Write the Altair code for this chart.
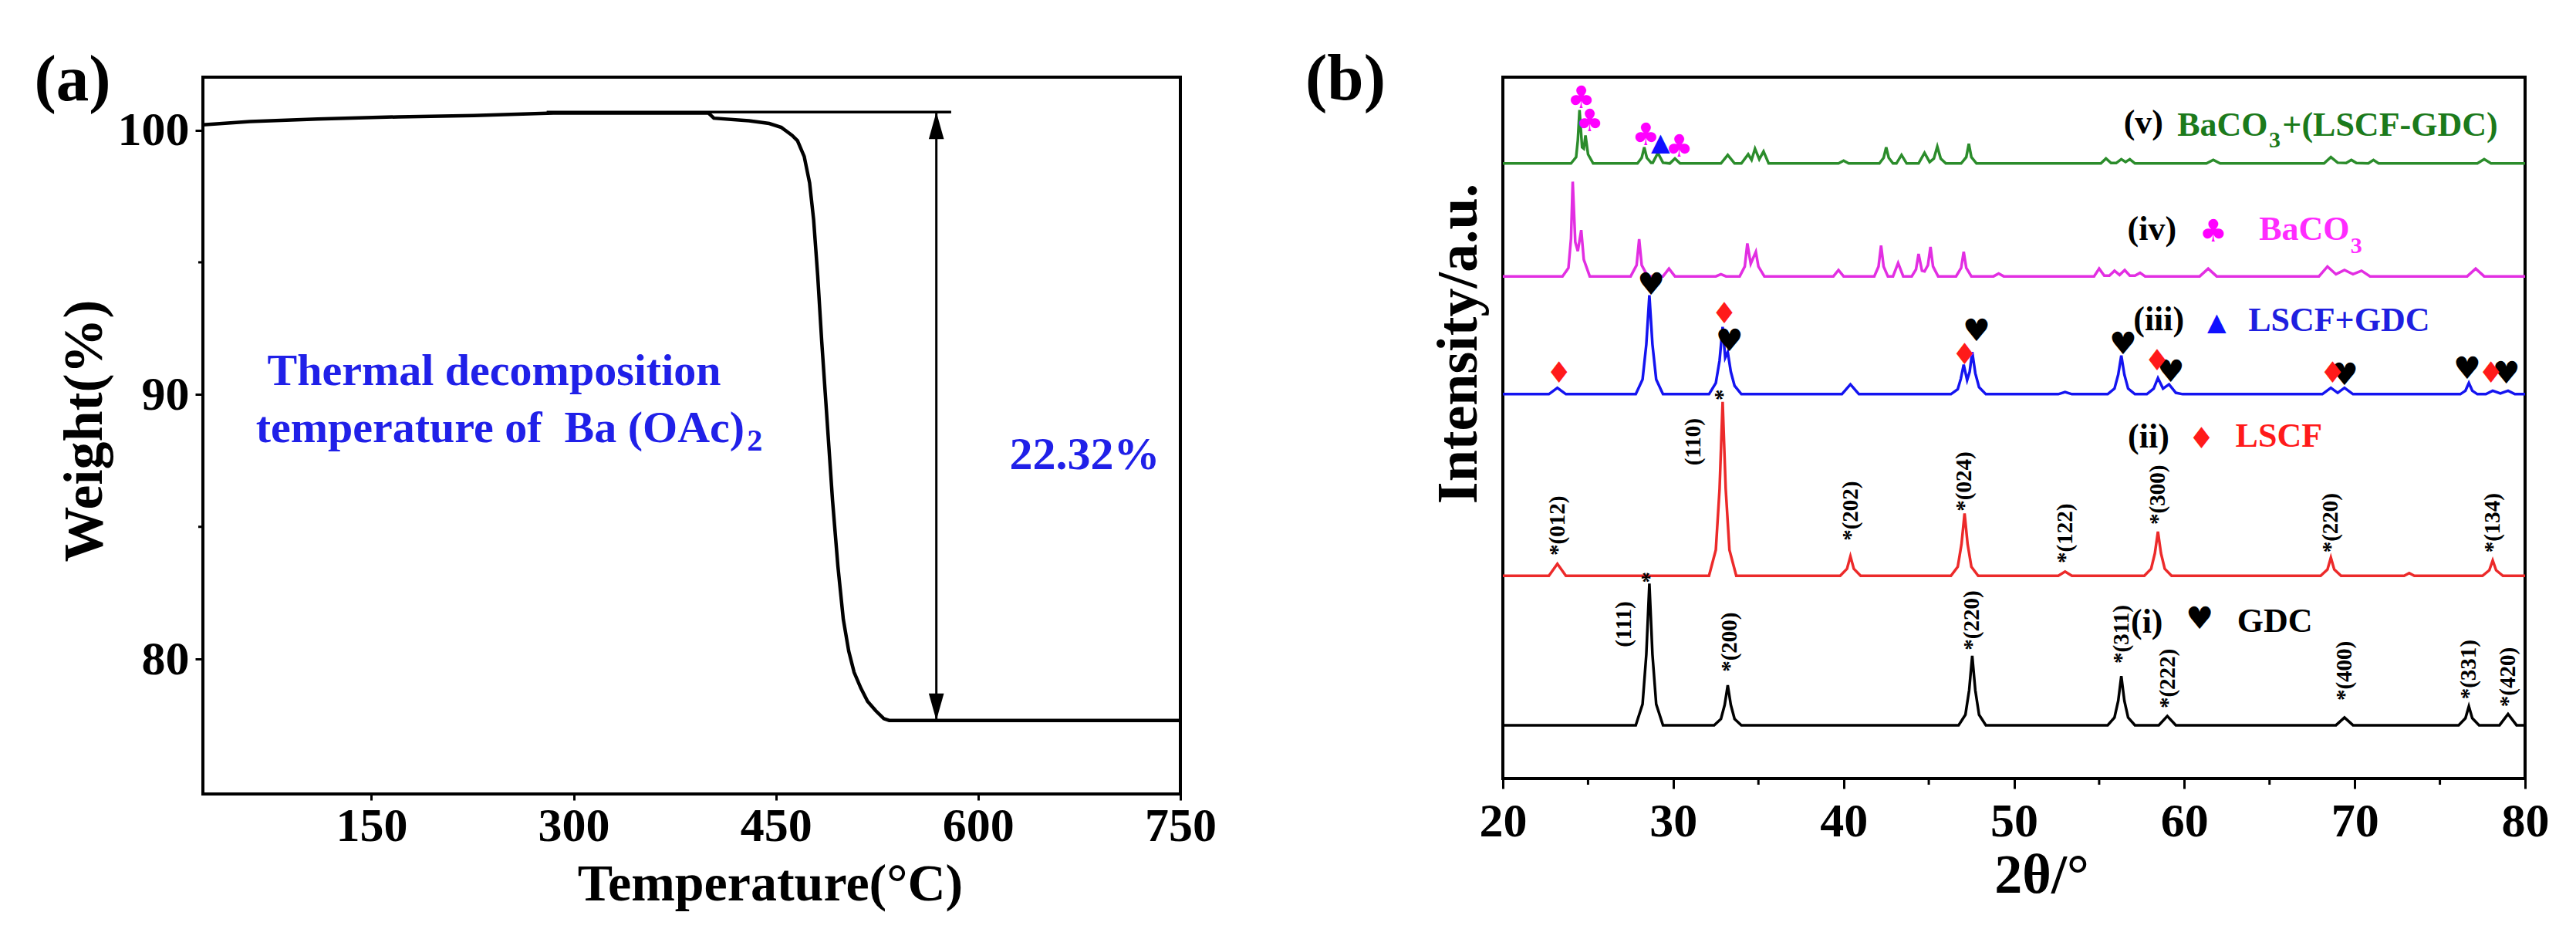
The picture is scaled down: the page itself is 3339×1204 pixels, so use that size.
import altair as alt
import pandas as pd

FONT = "Liberation Serif"
SYM_FONT = "DejaVu Sans"

# ================= Panel (a): TGA =================
tga_temp = [25, 60, 110, 170, 226, 285, 400, 404, 430, 445, 454, 462, 466, 471, 475, 478, 481, 484, 488, 492,
            496, 500, 504, 508, 513, 518, 524, 530, 534, 600, 750]
tga_weight = [100.20, 100.32, 100.42, 100.50, 100.55, 100.64, 100.64, 100.45, 100.35, 100.25, 100.10, 99.80,
              99.60, 99.00, 98.00, 96.60, 94.50, 92.00, 89.00, 86.00, 83.50, 81.50, 80.30, 79.50, 78.90, 78.40,
              78.05, 77.75, 77.68, 77.68, 77.68]
ref_temp = [280, 580]
ref_weight = [100.68, 100.68]
arrow_temp = [569]
arrow_top = [100.68]
arrow_bottom = [77.68]
a_xticks = [150, 300, 450, 600, 750]
a_yticks = [80, 90, 100]
a_yminor = [85, 95]
a_note_text = ["Thermal decomposition", "temperature of\u00a0 Ba (OAc)", "2", "22.32%"]
a_note_x = [241, 426.8, 428.5, 679]
a_note_y = [90.85, 88.7, 88.22, 87.7]
a_note_align = ["center", "right", "left", "center"]
a_note_size = [58, 58, 40, 60]

# ================= Panel (b): XRD =================
gdc_pts = [(20, 7.6),
           (27.8, 7.6), (28.2, 10.6), (28.42, 17.7), (28.6, 27.8), (28.78, 17.7), (29.0, 10.6), (29.4, 7.6),
           (32.4, 7.6), (32.8, 8.5), (33.02, 10.5), (33.2, 13.3), (33.38, 10.5), (33.6, 8.5), (34.0, 7.6),
           (46.75, 7.6), (47.15, 9.1), (47.37, 12.6), (47.55, 17.5), (47.73, 12.6), (47.95, 9.1), (48.35, 7.6),
           (55.5, 7.6), (55.9, 8.7), (56.12, 11.1), (56.3, 14.6), (56.48, 11.1), (56.7, 8.7), (57.1, 7.6),
           (58.5, 7.6), (59.0, 8.9), (59.5, 7.6),
           (68.9, 7.6), (69.4, 8.7), (69.9, 7.6),
           (76.1, 7.6), (76.5, 8.6), (76.7, 10.3), (76.9, 8.6), (77.3, 7.6),
           (78.5, 7.6), (79.0, 9.2), (79.5, 7.6), (80, 7.6)]
lscf_pts = [(20, 28.9),
            (22.7, 28.9), (23.2, 30.6), (23.7, 28.9),
            (32.1, 28.9), (32.5, 32.6), (32.72, 41.3), (32.9, 53.7), (33.08, 41.3), (33.3, 32.6), (33.7, 28.9),
            (39.8, 28.9), (40.2, 29.9), (40.4, 31.7), (40.6, 29.9), (41.0, 28.9),
            (46.3, 28.9), (46.7, 30.2), (46.92, 33.4), (47.1, 37.8), (47.28, 33.4), (47.5, 30.2), (47.9, 28.9),
            (52.6, 28.9), (53.0, 29.5), (53.4, 28.9),
            (57.65, 28.9), (58.05, 29.9), (58.27, 32.1), (58.45, 35.2), (58.63, 32.1), (58.85, 29.9), (59.25, 28.9),
            (68.0, 28.9), (68.4, 29.8), (68.6, 31.5), (68.8, 29.8), (69.2, 28.9),
            (72.9, 28.9), (73.2, 29.3), (73.5, 28.9),
            (77.5, 28.9), (77.9, 29.7), (78.1, 31.1), (78.3, 29.7), (78.7, 28.9), (80, 28.9)]
mix_pts = [(20, 54.8),
           (22.7, 54.8), (23.2, 55.7), (23.7, 54.8),
           (27.8, 54.8), (28.2, 56.9), (28.42, 61.9), (28.6, 68.9), (28.78, 61.9), (29.0, 56.9), (29.4, 54.8),
           (32.1, 54.8), (32.5, 56.4), (32.72, 59.6), (32.9, 64.4), (33.05, 60.0), (33.2, 60.8), (33.38, 58.0),
           (33.6, 56.0), (34.0, 54.8),
           (39.9, 54.8), (40.4, 56.2), (40.9, 54.8),
           (46.3, 54.8), (46.7, 55.5), (46.88, 57.0), (47.05, 59.0), (47.25, 56.8), (47.4, 58.0), (47.55, 60.8),
           (47.73, 57.8), (47.95, 55.8), (48.35, 54.8),
           (52.6, 54.8), (53.0, 55.1), (53.4, 54.8),
           (55.5, 54.8), (55.9, 55.6), (56.12, 57.6), (56.3, 60.3), (56.48, 57.6), (56.7, 55.6), (57.1, 54.8),
           (57.8, 54.8), (58.2, 55.6), (58.45, 57.1), (58.75, 55.6), (59.1, 56.2), (59.5, 55.0), (59.9, 54.8),
           (68.1, 54.8), (68.6, 55.7), (69.0, 55.0), (69.4, 55.7), (69.9, 54.8),
           (76.2, 54.8), (76.5, 55.3), (76.7, 56.4), (76.9, 55.3), (77.2, 54.8),
           (77.7, 54.8), (78.1, 55.3), (78.55, 54.9), (79.0, 55.3), (79.4, 54.8), (80, 54.8)]
baco3_pts = [(20, 71.6),
             (23.5, 71.6), (23.85, 72.8), (24.0, 77.0), (24.1, 85.1), (24.25, 76.5), (24.4, 75.2), (24.6, 78.2),
             (24.75, 74.0), (25.1, 71.6),
             (27.5, 71.6), (27.85, 73.2), (28.0, 76.9), (28.15, 73.2), (28.5, 71.6),
             (29.4, 71.6), (29.75, 72.7), (30.1, 71.6),
             (32.5, 71.6), (32.8, 71.9), (33.1, 71.6),
             (33.9, 71.6), (34.2, 73.0), (34.35, 76.3), (34.55, 73.4), (34.85, 75.1), (35.0, 73.0), (35.35, 71.6),
             (39.4, 71.6), (39.7, 72.5), (40.0, 71.6),
             (41.8, 71.6), (42.05, 73.0), (42.2, 76.0), (42.35, 73.0), (42.6, 71.6),
             (42.9, 71.6), (43.2, 73.5), (43.5, 71.6),
             (44.0, 71.6), (44.25, 72.6), (44.4, 74.8), (44.6, 72.4), (44.75, 72.3), (44.95, 73.2), (45.1, 75.8),
             (45.25, 73.0), (45.55, 71.6),
             (46.6, 71.6), (46.9, 72.8), (47.05, 75.1), (47.2, 72.8), (47.5, 71.6),
             (48.8, 71.6), (49.1, 72.0), (49.4, 71.6),
             (54.7, 71.6), (55.0, 72.7), (55.3, 71.7), (55.6, 71.7), (55.9, 72.4), (56.2, 71.8), (56.5, 72.5),
             (56.8, 71.7), (57.1, 71.7), (57.4, 72.1), (57.7, 71.6),
             (60.9, 71.6), (61.4, 72.7), (61.9, 71.6),
             (67.9, 71.6), (68.4, 73.0), (68.9, 71.9), (69.4, 72.5), (69.9, 71.9), (70.4, 72.4), (70.9, 71.6),
             (76.6, 71.6), (77.1, 72.7), (77.6, 71.6), (80, 71.6)]
react_pts = [(20, 87.7),
             (24.0, 87.7), (24.3, 88.6), (24.4, 91.0), (24.5, 95.3), (24.65, 90.0), (24.75, 89.8), (24.85, 91.7),
             (25.0, 89.0), (25.3, 87.7),
             (27.9, 87.7), (28.15, 88.5), (28.3, 90.0), (28.45, 88.5), (28.7, 87.8),
             (28.8, 87.8), (29.1, 89.2), (29.4, 87.8),
             (29.8, 87.7), (30.1, 88.4), (30.4, 87.7),
             (32.8, 87.7), (33.2, 88.9), (33.6, 87.7),
             (34.0, 87.7), (34.4, 89.0), (34.6, 88.2), (34.8, 89.8), (35.05, 88.3), (35.3, 89.4), (35.6, 87.7),
             (39.7, 87.7), (40.0, 88.1), (40.3, 87.7),
             (42.1, 87.7), (42.35, 88.5), (42.5, 90.0), (42.65, 88.5), (42.9, 87.7),
             (43.1, 87.7), (43.4, 88.9), (43.7, 87.7),
             (44.4, 87.7), (44.75, 89.2), (45.05, 87.9), (45.3, 88.4), (45.5, 90.1), (45.7, 88.4), (46.0, 87.7),
             (46.9, 87.7), (47.2, 88.6), (47.35, 90.5), (47.5, 88.6), (47.8, 87.7),
             (55.1, 87.7), (55.4, 88.4), (55.7, 87.75),
             (56.0, 87.75), (56.3, 88.3), (56.55, 87.9), (56.8, 88.3), (57.1, 87.7),
             (61.3, 87.7), (61.7, 88.2), (62.1, 87.7),
             (68.2, 87.7), (68.6, 88.6), (69.0, 87.8),
             (69.5, 87.75), (69.8, 88.2), (70.1, 87.75),
             (70.8, 87.7), (71.1, 88.2), (71.4, 87.7),
             (77.2, 87.7), (77.6, 88.3), (78.0, 87.7), (80, 87.7)]

b_xticks = [20, 30, 40, 50, 60, 70, 80]
b_xminor = [25, 35, 45, 55, 65, 75]

heart_pts = [(28.7, 70.3), (33.3, 62.3), (47.8, 63.7), (56.4, 61.8), (59.2, 57.9), (69.4, 57.4), (76.6, 58.3),
             (78.9, 57.6), (60.9, 22.7)]
diamond_pts = [(23.3, 57.6), (33.0, 66.1), (47.1, 60.3), (58.4, 59.4), (68.7, 57.6), (78.0, 57.6), (61.0, 48.3)]
club_pts = [(24.6, 96.9), (25.1, 93.6), (28.4, 91.6), (30.35, 90.0), (61.7, 77.9)]
triangle_pts = [(29.25, 90.6), (61.9, 65.0)]

lscf_hkl_text = ["*(012)", "*(202)", "*(024)", "*(122)", "*(300)", "*(220)", "*(134)", "*"]
lscf_hkl_x = [23.2, 40.4, 47.1, 53.0, 58.45, 68.6, 78.1, 32.9]
lscf_hkl_y = [31.8, 33.9, 38.1, 30.7, 36.2, 32.2, 32.2, 53.9]
gdc_hkl_text = ["*(200)", "*(220)", "*(311)", "*(222)", "*(400)", "*(331)", "*(420)", "*"]
gdc_hkl_x = [33.3, 47.55, 56.3, 59.05, 69.4, 76.7, 79.0, 28.6]
gdc_hkl_y = [15.2, 18.3, 16.4, 10.0, 11.1, 11.3, 10.2, 27.9]
side_hkl_text = ["(110)", "(111)"]
side_hkl_x = [31.2, 27.1]
side_hkl_y = [48.0, 22.0]

roman_text = ["(v)", "(iv)", "(iii)", "(ii)", "(i)"]
roman_x = [57.6, 58.1, 58.5, 57.9, 57.8]
roman_y = [93.4, 78.2, 65.4, 48.6, 22.2]

GREEN, GREEN_T = "#2b8c2b", "#1b7a1b"
MAG, MAG_T = "#e22ee2", "#ff2bff"
BLUE, BLUE_T = "#1414f0", "#1f1fe0"
RED, RED_T = "#ec2a2a", "#ff1a1a"
NOTE_BLUE = "#2020e8"

# name labels: text, x, y, align, size, color
name_text = ["GDC", "LSCF", "LSCF+GDC", "BaCO", "3", "BaCO", "3", "+(LSCF-GDC)"]
name_x = [63.1, 63.0, 63.75, 69.7, 69.75, 64.9, 64.97, 65.75]
name_y = [22.3, 48.7, 65.2, 78.2, 75.9, 93.1, 91.0, 93.1]
name_align = ["left", "left", "left", "right", "left", "right", "left", "left"]
name_size = [44, 44, 44, 44, 30, 44, 30, 44]
name_color = ["black", RED_T, BLUE_T, MAG_T, MAG_T, GREEN_T, GREEN_T, GREEN_T]

# ================= build =================
A_W, A_H = 1267, 929
B_W, B_H = 1325, 909

xa = alt.Scale(domain=[25, 750], nice=False, zero=False)
ya = alt.Scale(domain=[74.9, 102.0], nice=False, zero=False)
xb = alt.Scale(domain=[20, 80], nice=False, zero=False)
yb = alt.Scale(domain=[0, 100], nice=False, zero=False)

common = dict(labelFont=FONT, labelFontWeight="bold", labelColor="black", labelFontSize=62,
              tickColor="black", tickWidth=3, domain=False, grid=False,
              titleFont=FONT, titleFontWeight="bold", titleColor="black",
              titleAlign="center", titleBaseline="middle", labelFlush=False, labelOverlap=False)

ax_a_x = alt.Axis(values=a_xticks, format="d", title="Temperature(°C)", labelPadding=3, tickSize=8,
                  titleFontSize=68, titleX=735, titleY=117, **common)
ax_a_y = alt.Axis(values=a_yticks, format="d", title="Weight(%)", labelPadding=8, tickSize=10,
                  titleFontSize=72, titleX=-154, titleY=458, titleAngle=270, **common)
ax_b_x = alt.Axis(values=b_xticks, format="d", title="2θ/°", labelPadding=12, tickSize=13,
                  titleFontSize=72, titleX=698, titleY=125, **common)
ax_b_y = alt.Axis(labels=False, ticks=False, title="Intensity/a.u.", titleFontSize=74, titleX=-57,
                  titleY=345, titleAngle=270, **common)


def XA():
    return alt.X("x:Q", scale=xa, axis=ax_a_x)


def YA(f="y"):
    return alt.Y(f + ":Q", scale=ya, axis=ax_a_y)


def XB():
    return alt.X("x:Q", scale=xb, axis=ax_b_x)


def YB():
    return alt.Y("y:Q", scale=yb, axis=ax_b_y)


one = pd.DataFrame({"k": [0]})


def spacer(px, py):
    return alt.Chart(one).mark_point(opacity=0, size=1).encode(x=alt.value(px), y=alt.value(py))


# ---- panel (a) layers
a_layers = []
a_layers.append(alt.Chart(pd.DataFrame({"x": tga_temp, "y": tga_weight}))
                .mark_line(color="black", strokeWidth=4.5).encode(x=XA(), y=YA()))
a_layers.append(alt.Chart(pd.DataFrame({"x": ref_temp, "y": ref_weight}))
                .mark_line(color="black", strokeWidth=3.5).encode(x=XA(), y=YA()))
arrow_df = pd.DataFrame({"x": arrow_temp, "y": arrow_top, "y2": arrow_bottom})
a_layers.append(alt.Chart(arrow_df).mark_rule(color="black", strokeWidth=3)
                .encode(x=XA(), y=YA(), y2="y2:Q"))
a_layers.append(alt.Chart(arrow_df).mark_point(shape="M0,0L-0.7,2.5L0.7,2.5Z", size=784, filled=True,
                                               color="black", opacity=1)
                .encode(x=XA(), y=YA("y")))
a_layers.append(alt.Chart(arrow_df).mark_point(shape="M0,0L-0.7,-2.5L0.7,-2.5Z", size=784, filled=True,
                                               color="black", opacity=1)
                .encode(x=XA(), y=YA("y2")))
a_layers.append(alt.Chart(pd.DataFrame({"y": a_yminor})).mark_rule(color="black", strokeWidth=3)
                .encode(y=YA(), x=alt.value(0), x2=alt.value(-6)))
for t, x, y, al, fs in zip(a_note_text, a_note_x, a_note_y, a_note_align, a_note_size):
    a_layers.append(alt.Chart(pd.DataFrame({"x": [x], "y": [y], "t": [t]}))
                    .mark_text(font=FONT, fontWeight="bold", fontSize=fs, color=NOTE_BLUE, align=al,
                               baseline="middle")
                    .encode(x=XA(), y=YA(), text="t:N"))
a_layers.append(alt.Chart(one).mark_text(text="(a)", font=FONT, fontWeight="bold", fontSize=85, color="black",
                                         align="center", baseline="middle")
                .encode(x=alt.value(-169), y=alt.value(4)))
a_layers.append(spacer(-252, -75))
a_layers.append(spacer(A_W + 80, -75))

chart_a = alt.layer(*a_layers).properties(width=A_W, height=A_H)

# ---- panel (b) layers
b_layers = []
for pts, col in [(gdc_pts, "black"), (lscf_pts, RED), (mix_pts, BLUE), (baco3_pts, MAG), (react_pts, GREEN)]:
    b_layers.append(alt.Chart(pd.DataFrame(pts, columns=["x", "y"]))
                    .mark_line(color=col, strokeWidth=3.5).encode(x=XB(), y=YB()))
b_layers.append(alt.Chart(pd.DataFrame({"x": b_xminor})).mark_rule(color="black", strokeWidth=3)
                .encode(x=XB(), y=alt.value(B_H), y2=alt.value(B_H + 8)))

for pts, sym, col, fs in [(heart_pts, "♥", "black", 40), (diamond_pts, "♦", "#ff1a1a", 38),
                          (club_pts, "♣", "#ff00ff", 40), (triangle_pts, "▲", "#1010ff", 32)]:
    df = pd.DataFrame(pts, columns=["x", "y"])
    df["t"] = sym
    b_layers.append(alt.Chart(df).mark_text(font=SYM_FONT, fontSize=fs, color=col, align="center",
                                            baseline="middle")
                    .encode(x=XB(), y=YB(), text="t:N"))

hkl_df = pd.DataFrame({"x": lscf_hkl_x + gdc_hkl_x, "y": lscf_hkl_y + gdc_hkl_y,
                       "t": lscf_hkl_text + gdc_hkl_text})
b_layers.append(alt.Chart(hkl_df).mark_text(font=FONT, fontWeight="bold", fontSize=29, color="black",
                                            angle=270, align="left", baseline="middle")
                .encode(x=XB(), y=YB(), text="t:N"))
side_df = pd.DataFrame({"x": side_hkl_x, "y": side_hkl_y, "t": side_hkl_text})
b_layers.append(alt.Chart(side_df).mark_text(font=FONT, fontWeight="bold", fontSize=29, color="black",
                                             angle=270, align="center", baseline="middle")
                .encode(x=XB(), y=YB(), text="t:N"))
roman_df = pd.DataFrame({"x": roman_x, "y": roman_y, "t": roman_text})
b_layers.append(alt.Chart(roman_df).mark_text(font=FONT, fontWeight="bold", fontSize=44, color="black",
                                              align="center", baseline="middle")
                .encode(x=XB(), y=YB(), text="t:N"))
for t, x, y, al, fs, col in zip(name_text, name_x, name_y, name_align, name_size, name_color):
    b_layers.append(alt.Chart(pd.DataFrame({"x": [x], "y": [y], "t": [t]}))
                    .mark_text(font=FONT, fontWeight="bold", fontSize=fs, color=col, align=al, baseline="middle")
                    .encode(x=XB(), y=YB(), text="t:N"))
b_layers.append(alt.Chart(one).mark_text(text="(b)", font=FONT, fontWeight="bold", fontSize=85, color="black",
                                         align="center", baseline="middle")
                .encode(x=alt.value(-204), y=alt.value(3)))
b_layers.append(spacer(-332, -89))

chart_b = alt.layer(*b_layers).properties(width=B_W, height=B_H)

chart = (alt.hconcat(chart_a, chart_b, spacing=0)
         .properties(padding={"left": 0, "top": 0, "right": 0, "bottom": 0}, background="white")
         .configure_view(stroke="black", strokeWidth=4))

chart.save("out.html", embed_options={"renderer": "svg", "actions": False})
